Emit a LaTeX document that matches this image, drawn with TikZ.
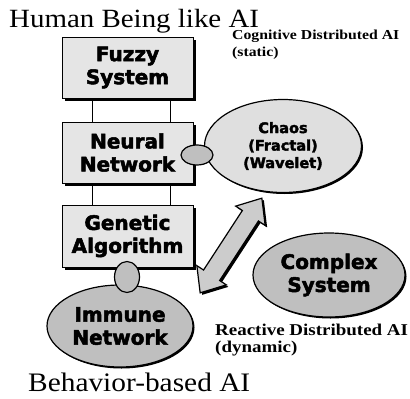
\documentclass[tikz,border=0pt]{standalone}
\usepackage{fontspec}
\setmainfont{Liberation Serif}
\newfontfamily\titlefont[FakeStretch=1.1]{Liberation Serif}
\newfontfamily\notefont[FakeStretch=1.15]{Liberation Serif}
\newfontfamily\boxfont[FakeBold=2.5]{DejaVu Sans}
\usepackage{tikz}
\usetikzlibrary{shapes.geometric,shapes.arrows,shadows}

\begin{document}
\begin{tikzpicture}[x=1pt, y=-1pt,
  aibox/.style={draw, thick, fill=gray!20, minimum width=131pt, minimum height=61pt, align=center, inner sep=0pt,
    font=\boxfont\bfseries\fontsize{20}{23}\selectfont,
    drop shadow={shadow xshift=2.5pt, shadow yshift=-2.5pt, fill=black, opacity=1}},
  blob/.style={ellipse, draw, very thick, align=center, inner sep=0pt,
    font=\boxfont\bfseries\fontsize{20}{23}\selectfont,
    drop shadow={shadow xshift=1.5pt, shadow yshift=-1.5pt, fill=black, opacity=1}},
  link/.style={ellipse, draw, very thick, fill=gray!50, inner sep=0pt},
  note/.style={anchor=north west, inner sep=0pt, align=left}]
\useasboundingbox (0,0) rectangle (410,399);
% Headings
\node[anchor=base west, inner sep=0pt, font=\titlefont\fontsize{26.3}{30}\selectfont] (human) at (9,27) {Human Being like AI};
\node[anchor=base west, inner sep=0pt, font=\titlefont\fontsize{26.7}{30}\selectfont] (behav) at (28,391) {Behavior-based AI};
\node[note, font=\notefont\bfseries\fontsize{13.7}{17}\selectfont] (cogn) at (232,29.5) {Cognitive Distributed AI\\(static)};
\node[note, font=\notefont\bfseries\fontsize{16.5}{17}\selectfont] (react) at (215,323.5) {Reactive Distributed AI\\(dynamic)};
% Boxes
\node[aibox] (fuzzy) at (127.5,67.5) {Fuzzy\\System};
\node[aibox] (neural) at (127.5,152.5) {Neural\\Network};
\node[aibox, minimum height=62pt] (genetic) at (127.5,236) {Genetic\\Algorithm};
\foreach \a/\b in {fuzzy/neural, neural/genetic} {
  \draw[thick] ([xshift=-35.5pt]\a.south) -- ([xshift=-35.5pt]\b.north);
  \draw[thick] ([xshift=42.5pt]\a.south) -- ([xshift=42.5pt]\b.north);
}
% Ellipses
\node[blob, fill=gray!25, minimum width=157pt, minimum height=93pt, font=\boxfont\bfseries\fontsize{14.5}{17.5}\selectfont] (chaos) at (283,146) {Chaos\\(Fractal)\\(Wavelet)};
\node[blob, fill=gray!50, minimum width=146pt, minimum height=82pt] (immune) at (120,326) {Immune\\Network};
\node[blob, fill=gray!50, minimum width=152pt, minimum height=84pt] (complex) at (329,275) {Complex\\System};
\node[link, minimum width=32pt, minimum height=20pt] (nclink) at (197,155) {};
\node[link, minimum width=25pt, minimum height=31pt] (gilink) at (127,277) {};
% Arrow
\node[double arrow, draw, very thick, fill=gray!40, rotate=56.9, minimum height=113pt,
  double arrow head extend=8pt, double arrow tip angle=80, inner xsep=0pt, inner ysep=9pt,
  drop shadow={shadow xshift=2pt, shadow yshift=-2pt, fill=black, opacity=1}] (swing) at (231,245.5) {};
\end{tikzpicture}
\end{document}
